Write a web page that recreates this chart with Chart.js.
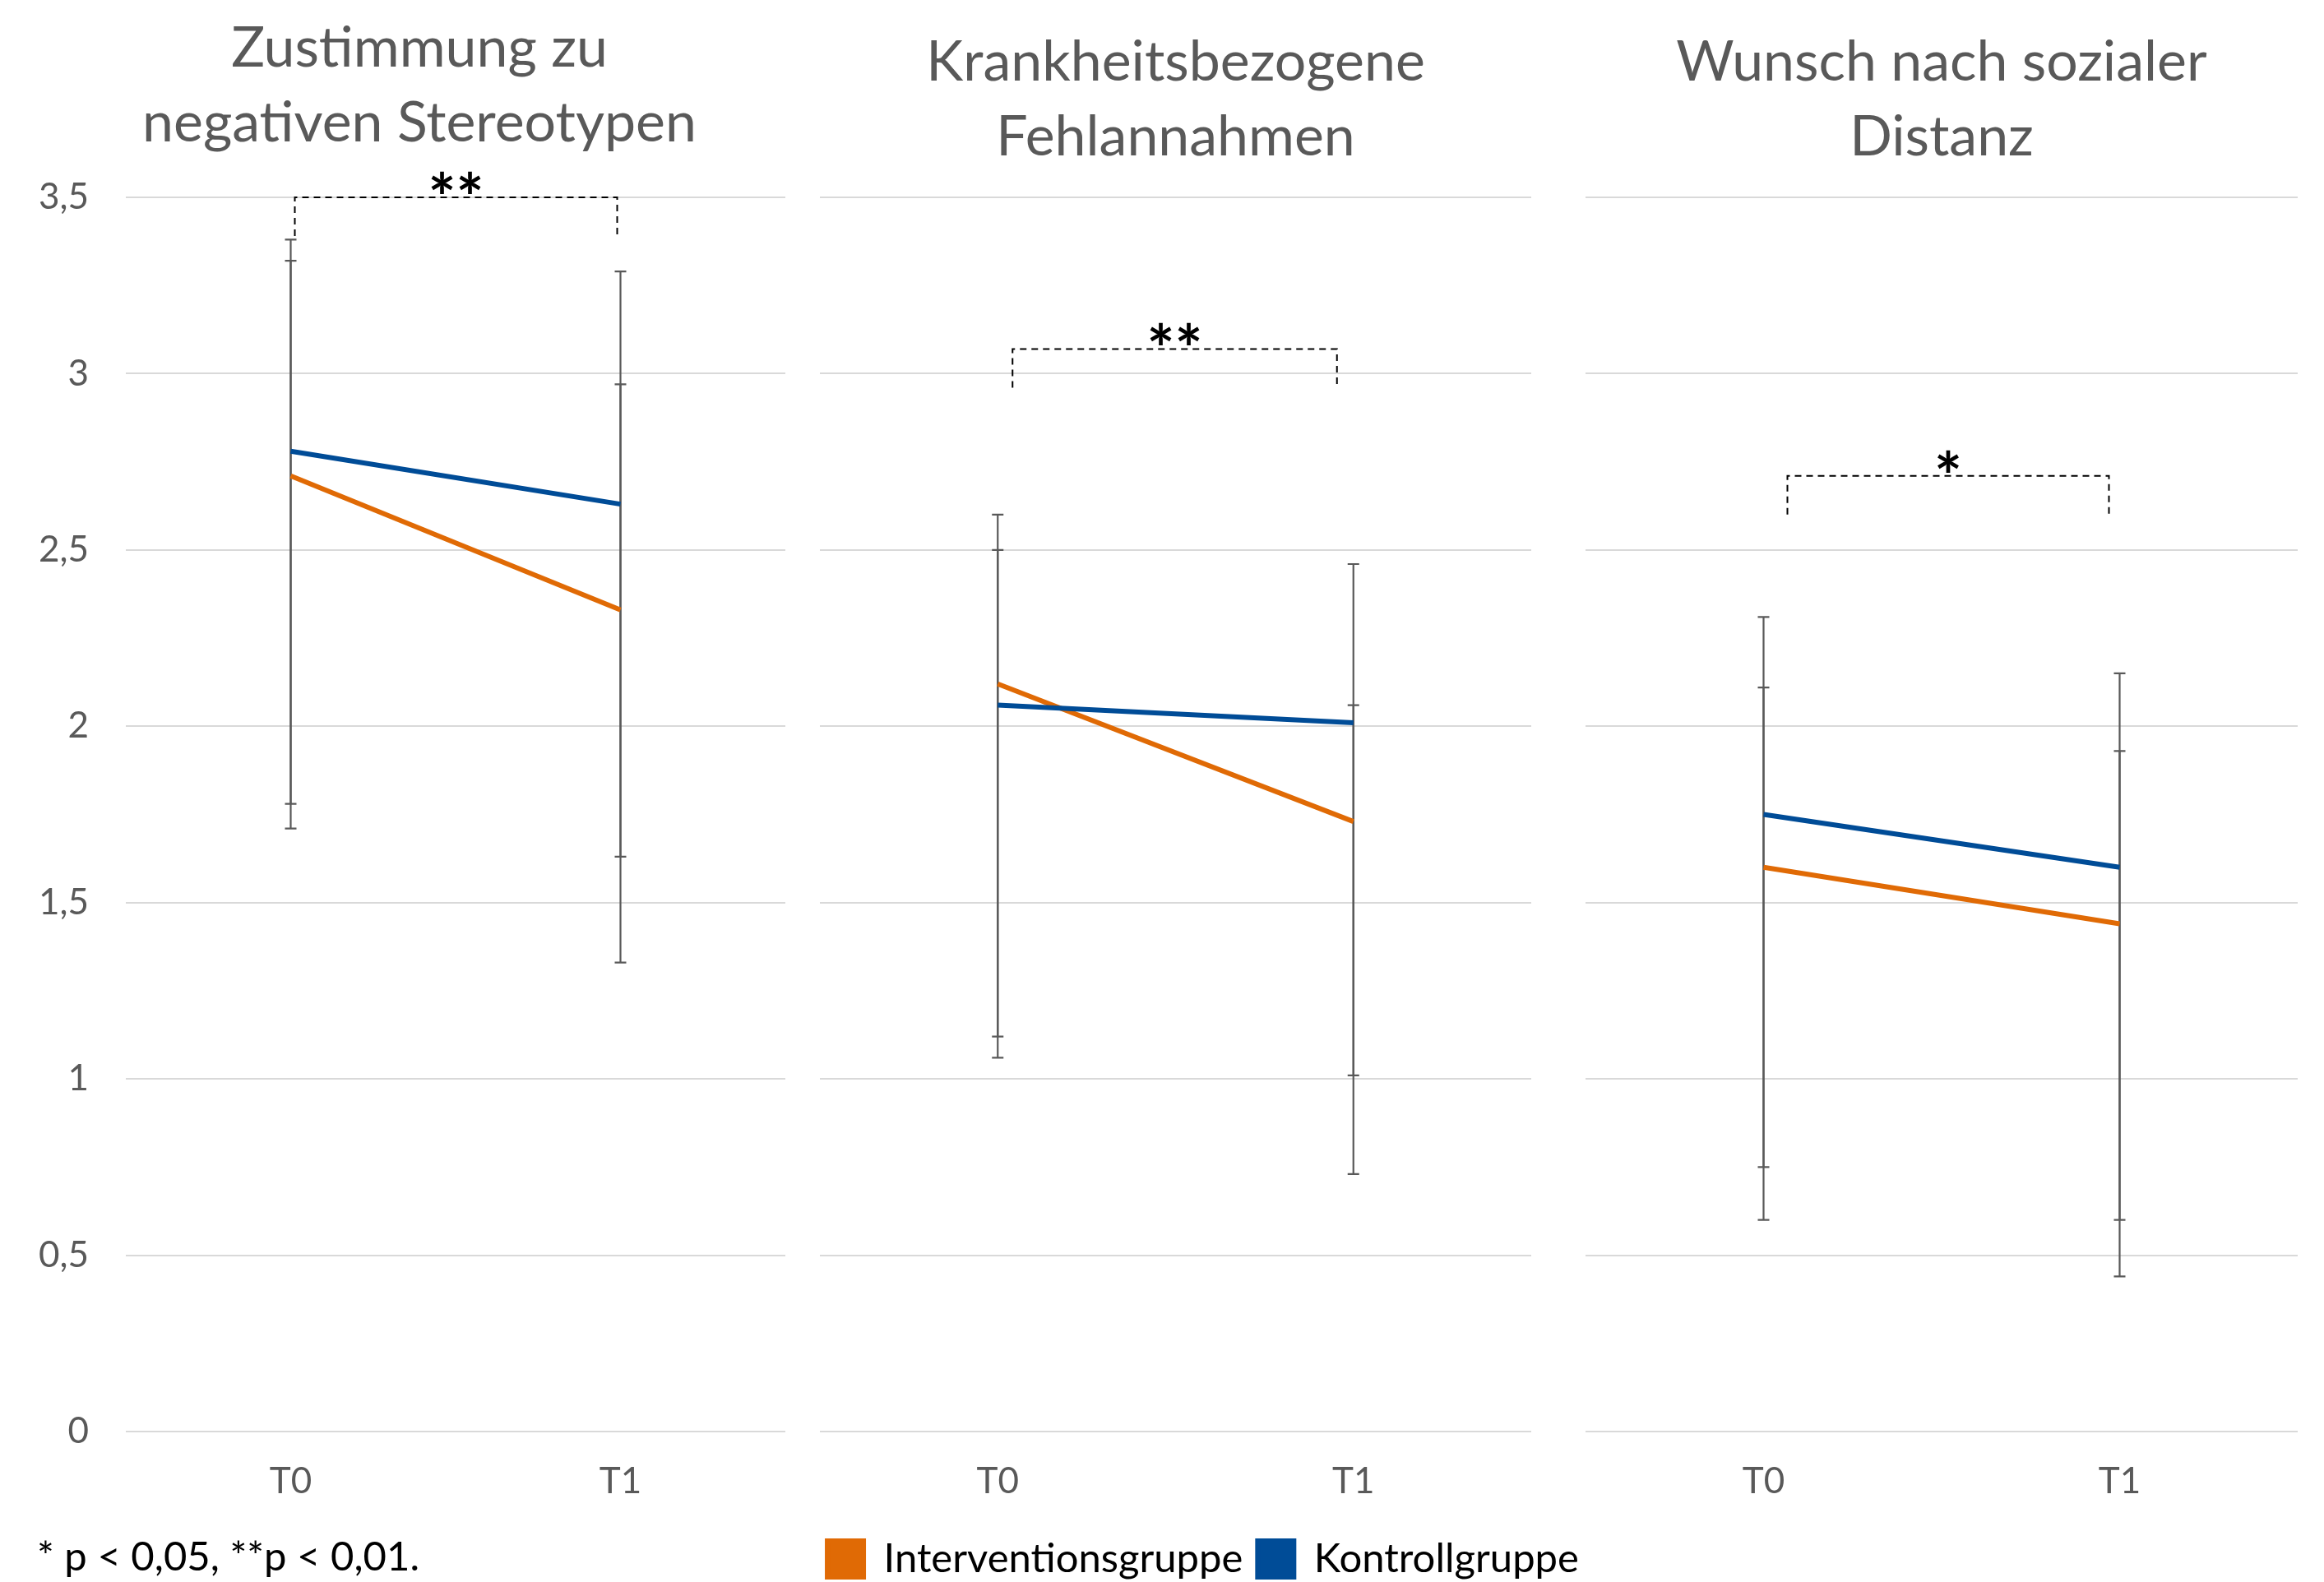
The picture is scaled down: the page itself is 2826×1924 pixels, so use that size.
<!DOCTYPE html>
<html lang="de">
<head>
    <meta charset="UTF-8">
    <title>Stigma T0 / T1</title>
    <script src="https://cdn.jsdelivr.net/npm/chart.js"></script>
    <style>
        html, body { margin: 0; padding: 0; background: #fff; overflow: hidden; }
        canvas { position: absolute; top: 0; }
    </style>
</head>
<body>
    <canvas id="p1" style="left:0px" width="980" height="1940"></canvas>
    <canvas id="p2" style="left:960px" width="990" height="1940"></canvas>
    <canvas id="p3" style="left:1900px" width="926" height="1940"></canvas>

    <script>
        // Daten
        const zeitpunkte = ['T0', 'T1'];
        const gruppen = ['Interventionsgruppe', 'Kontrollgruppe'];
        const titel = [
            ['Zustimmung zu', 'negativen Stereotypen'],
            ['Krankheitsbezogene', 'Fehlannahmen'],
            ['Wunsch nach sozialer', 'Distanz']
        ];
        const yTicks = [0, 0.5, 1, 1.5, 2, 2.5, 3, 3.5];

        const interventionMittel = [[2.71, 2.33], [2.12, 1.73], [1.60, 1.44]];
        const kontrollMittel     = [[2.78, 2.63], [2.06, 2.01], [1.75, 1.60]];

        // Fehlerbalken (obere / untere Enden)
        const interventionOben  = [[3.32, 2.97], [2.60, 2.06], [2.11, 1.93]];
        const interventionUnten = [[1.71, 1.33], [1.12, 0.73], [0.60, 0.44]];
        const kontrollOben      = [[3.38, 3.29], [2.50, 2.46], [2.31, 2.15]];
        const kontrollUnten     = [[1.78, 1.63], [1.06, 1.01], [0.75, 0.60]];

        // Signifikanz T0 vs T1
        const signifikanz = ['**', '**', '*'];
        const klammerWert = [3.5, 3.07, 2.71];

        const fussnote = '* p < 0,05, **p < 0,01.';

        // Farben
        const ORANGE = '#E06A05';
        const BLAU = '#004C97';
        const GRAU = '#595959';
        const FONT = 'Lato';

        // Layout der drei Diagramme (Pixel)
        const panels = [
            { id: 'p1', pad: { left: 45, right: 5, top: 0, bottom: 16.8 }, yWidth: 108, yLabels: true, spacer: 20,
              titlePad: { top: 13.5, bottom: 44.5 }, titleFull: true, xHeight: 123.4, legend: false, footnote: true, innen: [5, 4] },
            { id: 'p2', pad: { left: 17, right: 1, top: 0, bottom: 9.5 }, yWidth: 20, yLabels: false, spacer: 87,
              titlePad: { top: 30.5, bottom: 27.5 }, titleFull: false, xHeight: 112.5, legend: true, footnote: false, innen: [18, 20] },
            { id: 'p3', pad: { left: 28, right: 32, top: 0, bottom: 99 }, yWidth: 0, yLabels: false, spacer: 0,
              titlePad: { top: 30.5, bottom: 27.5 }, titleFull: true, xHeight: 100, legend: false, footnote: false, innen: [29, 13] }
        ];

        // Fehlerbalken unter den Linien zeichnen
        const fehlerbalken = {
            id: 'fehlerbalken',
            beforeDatasetsDraw(chart, args, opts) {
                const { ctx, scales: { x, y } } = chart;
                ctx.save();
                ctx.strokeStyle = opts.color;
                ctx.lineWidth = opts.width;
                chart.data.datasets.forEach(ds => {
                    ds.oben.forEach((o, i) => {
                        const px = x.getPixelForValue(i);
                        const top = y.getPixelForValue(o);
                        const bot = y.getPixelForValue(ds.unten[i]);
                        ctx.beginPath();
                        ctx.moveTo(px, top); ctx.lineTo(px, bot);
                        ctx.moveTo(px - opts.cap, top); ctx.lineTo(px + opts.cap, top);
                        ctx.moveTo(px - opts.cap, bot); ctx.lineTo(px + opts.cap, bot);
                        ctx.stroke();
                    });
                });
                ctx.restore();
            }
        };

        // gestrichelte Klammer mit Sternchen
        const klammer = {
            id: 'klammer',
            afterDatasetsDraw(chart, args, opts) {
                const { ctx, scales: { x, y } } = chart;
                const yy = y.getPixelForValue(opts.wert);
                const x0 = x.getPixelForValue(0) + opts.innen[0];
                const x1 = x.getPixelForValue(1) - opts.innen[1];
                ctx.save();
                ctx.strokeStyle = '#000';
                ctx.lineWidth = 2;
                ctx.setLineDash([8, 6]);
                ctx.beginPath();
                ctx.moveTo(x0, yy + opts.bein);
                ctx.lineTo(x0, yy);
                ctx.lineTo(x1, yy);
                ctx.lineTo(x1, yy + opts.bein);
                ctx.stroke();
                ctx.setLineDash([]);
                ctx.fillStyle = '#000';
                ctx.font = 'bold 80px ' + FONT;
                ctx.textAlign = 'center';
                ctx.textBaseline = 'alphabetic';
                ctx.fillText(opts.text, (x0 + x1) / 2, yy + opts.textDy);
                ctx.restore();
            }
        };

        panels.forEach((p, i) => {
            const ctx = document.getElementById(p.id).getContext('2d');
            new Chart(ctx, {
                type: 'line',
                data: {
                    labels: zeitpunkte,
                    datasets: [{
                        label: gruppen[0],
                        data: interventionMittel[i],
                        oben: interventionOben[i],
                        unten: interventionUnten[i],
                        borderColor: ORANGE,
                        backgroundColor: ORANGE,
                        borderWidth: 6,
                        pointRadius: 0,
                        order: 1
                    }, {
                        label: gruppen[1],
                        data: kontrollMittel[i],
                        oben: kontrollOben[i],
                        unten: kontrollUnten[i],
                        borderColor: BLAU,
                        backgroundColor: BLAU,
                        borderWidth: 6,
                        pointRadius: 0,
                        order: 0
                    }]
                },
                options: {
                    responsive: false,
                    animation: false,
                    layout: { padding: p.pad },
                    scales: {
                        x: {
                            offset: true,
                            grid: { display: false, drawTicks: false },
                            border: { display: false },
                            ticks: { color: GRAU, font: { family: FONT, size: 44 }, padding: 34.6 },
                            afterFit: s => { s.height = p.xHeight; }
                        },
                        y: {
                            min: 0,
                            max: 3.5,
                            afterBuildTicks: s => { s.ticks = yTicks.map(v => ({ value: v })); },
                            ticks: {
                                display: p.yLabels,
                                padding: 45,
                                color: GRAU,
                                font: { family: FONT, size: 44 },
                                callback: v => String(v).replace('.', ',')
                            },
                            grid: { color: '#D9D9D9', lineWidth: 2, drawTicks: false },
                            border: { display: false },
                            afterFit: s => { s.width = p.yWidth; }
                        },
                        rechts: {
                            type: 'linear',
                            position: 'right',
                            display: p.spacer > 0,
                            grid: { display: false, drawTicks: false },
                            ticks: { display: false },
                            border: { display: false },
                            afterFit: s => { s.width = p.spacer; }
                        }
                    },
                    plugins: {
                        title: {
                            display: true,
                            text: titel[i],
                            color: GRAU,
                            fullSize: p.titleFull,
                            font: { family: FONT, size: 68, weight: 'normal', lineHeight: 91 / 68 },
                            padding: p.titlePad
                        },
                        subtitle: {
                            display: p.footnote,
                            position: 'bottom',
                            align: 'start',
                            text: fussnote,
                            color: '#000',
                            font: { family: FONT, size: 49 },
                            padding: 0
                        },
                        legend: {
                            display: p.legend,
                            position: 'bottom',
                            labels: {
                                boxWidth: 44,
                                boxHeight: 44,
                                padding: 18,
                                color: '#000',
                                font: { family: FONT, size: 49 },
                                sort: (a, b) => a.datasetIndex - b.datasetIndex
                            }
                        },
                        tooltip: { enabled: false },
                        fehlerbalken: { color: GRAU, width: 2.2, cap: 7 },
                        klammer: { wert: klammerWert[i], text: signifikanz[i], innen: p.innen, bein: 47, textDy: 30 }
                    }
                },
                plugins: [fehlerbalken, klammer]
            });
        });
    </script>
</body>
</html>
